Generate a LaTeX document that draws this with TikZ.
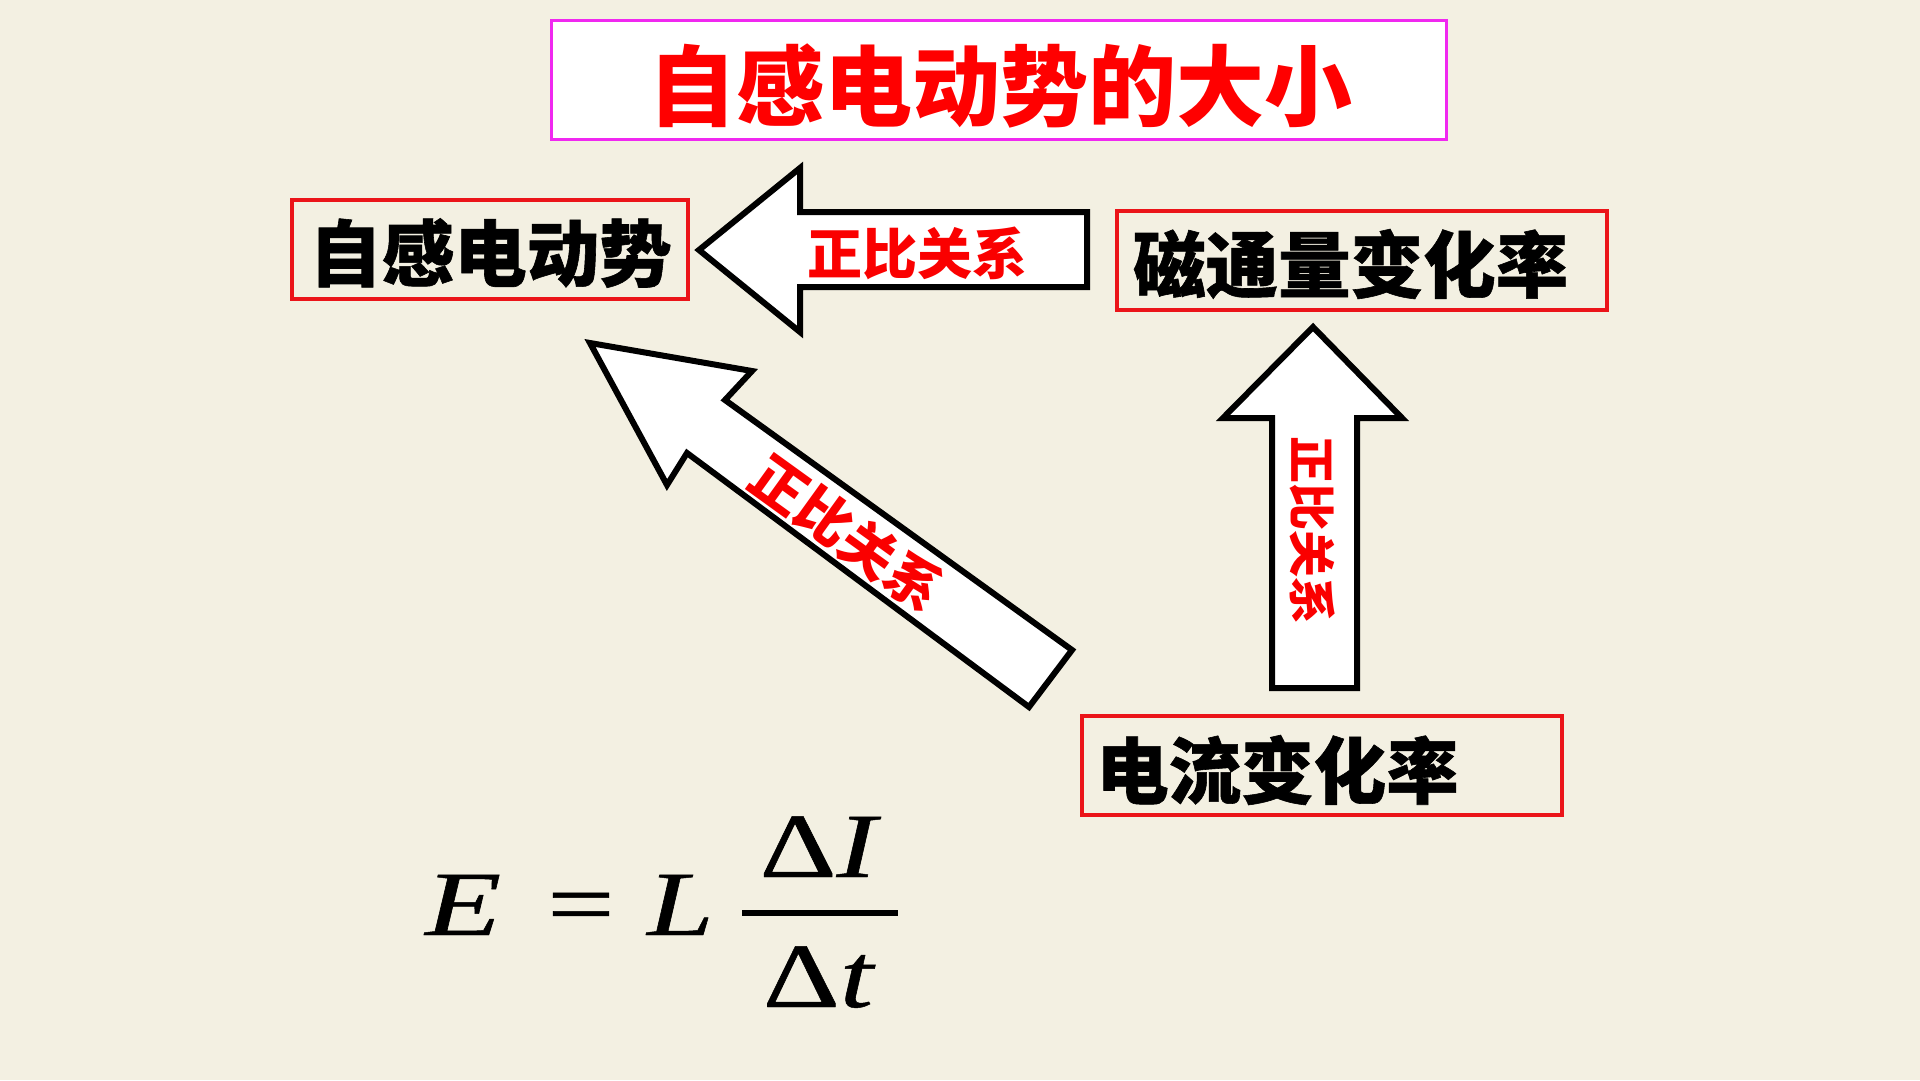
\documentclass[tikz,border=0pt]{standalone}
\usepackage{fontspec}
\newfontfamily\cjk{Noto Sans CJK SC}
\newfontfamily\cjkheavy{Noto Sans CJK SC}[FakeBold=0.8]
\newfontfamily\tms{Liberation Serif}[FakeBold=0.5]
\definecolor{bgc}{RGB}{243,240,226}
\definecolor{boxred}{RGB}{235,20,25}
\definecolor{mag}{RGB}{240,40,240}
\definecolor{labred}{RGB}{250,0,0}
\begin{document}
\begin{tikzpicture}[x=1pt,y=-1pt,
  boxstyle/.style={draw=boxred,line width=3.5pt,minimum height=99pt,inner sep=0pt},
  boxtext/.style={font=\cjkheavy\bfseries\fontsize{72.5}{72.5}\selectfont,anchor=west,inner sep=0pt},
  blockarrow/.style={draw=black,fill=white,line width=6pt,line join=miter,miter limit=4},
  arrowlabel/.style={text=labred,font=\cjk\bfseries\fontsize{55}{55}\selectfont,inner sep=0pt},
  mathtext/.style={font=\tms\fontsize{92}{92}\selectfont,inner sep=0pt,xscale=1.3}]
\fill[bgc] (0,0) rectangle (1920,1080);
\useasboundingbox (0,0) rectangle (1920,1080);
% title
\node[draw=mag,fill=white,line width=3pt,minimum width=895pt,minimum height=119pt,inner sep=0pt] (titlebox) at (999,80) {};
\node[text=red,font=\cjk\bfseries\fontsize{88}{88}\selectfont,inner sep=0pt] (title) at (1000,86) {自感电动势的大小};
% boxes
\node[boxstyle,minimum width=396pt] (emf) at (490,249.5) {};
\node[boxtext] (emftext) at (309,253) {自感电动势};
\node[boxstyle,minimum width=490pt] (flux) at (1362,260.5) {};
\node[boxtext] (fluxtext) at (1133,264) {磁通量变化率};
\node[boxstyle,minimum width=480pt] (cur) at (1322,765.5) {};
\node[boxtext] (curtext) at (1096,770) {电流变化率};
% horizontal arrow
\draw[blockarrow] (699,250) -- (800,168) -- (800,212) -- (1087,212) -- (1087,287) -- (800,287) -- (800,332) -- cycle;
\node[arrowlabel] (lab1) at (917,253) {正比关系};
% vertical arrow
\draw[blockarrow] (1313,327) -- (1402,418) -- (1357,418) -- (1357,688) -- (1272,688) -- (1272,418) -- (1223,418) -- cycle;
\node[arrowlabel,rotate=-90,font=\cjk\bfseries\fontsize{47}{47}\selectfont] (lab2) at (1313,530) {正比关系};
% diagonal arrow
\draw[blockarrow] (590,343) -- (752,371) -- (725,400) -- (1072,650) -- (1029,707) -- (687,453) -- (667,485) -- cycle;
\node[arrowlabel,rotate=-35.8] (lab3) at (847,533) {正比关系};
% formula
\node[mathtext,anchor=base west,xscale=1.04] (fE) at (425,935) {\itshape E};
\node[mathtext,anchor=base] (feq) at (581,935) {=};
\node[mathtext,anchor=base west] (fL) at (647,935) {\itshape L};
\node[mathtext,anchor=base] (fnum) at (818,877) {Δ\itshape I};
\node[mathtext,anchor=base] (fden) at (818,1007) {Δ\itshape t};
\draw[line width=6pt] (742,913) -- (898,913);
\end{tikzpicture}
\end{document}
